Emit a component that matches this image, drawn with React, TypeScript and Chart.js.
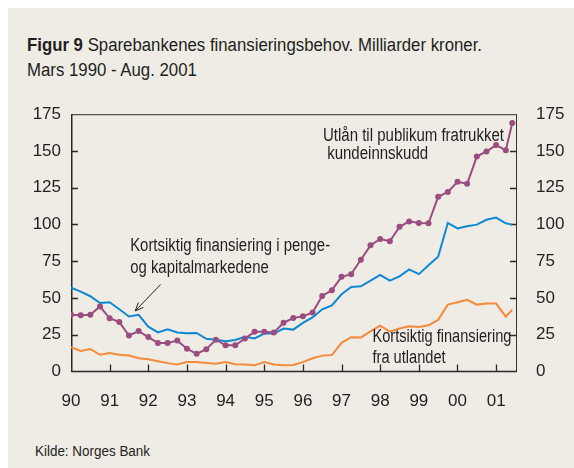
import { useEffect, useRef } from "react";
import { Chart, registerables } from "chart.js";

Chart.register(...registerables);

// Periods (quarter ends, last point August 2001)
const periods = [
  "1990-03", "1990-06", "1990-09", "1990-12",
  "1991-03", "1991-06", "1991-09", "1991-12",
  "1992-03", "1992-06", "1992-09", "1992-12",
  "1993-03", "1993-06", "1993-09", "1993-12",
  "1994-03", "1994-06", "1994-09", "1994-12",
  "1995-03", "1995-06", "1995-09", "1995-12",
  "1996-03", "1996-06", "1996-09", "1996-12",
  "1997-03", "1997-06", "1997-09", "1997-12",
  "1998-03", "1998-06", "1998-09", "1998-12",
  "1999-03", "1999-06", "1999-09", "1999-12",
  "2000-03", "2000-06", "2000-09", "2000-12",
  "2001-03", "2001-06", "2001-08",
];

// Utlån til publikum fratrukket kundeinnskudd
const utlanNetto = [
  38.6, 38.2, 38.6, 44.2, 36.2, 33.6, 24.5, 27.5, 23.4, 19.4, 19.4, 21.0,
  15.5, 12.0, 15.2, 21.6, 17.8, 17.8, 22.4, 27.1, 27.1, 26.6, 33.1, 36.4,
  37.5, 40.1, 51.4, 55.3, 64.4, 66.2, 76.0, 85.8, 90.1, 88.6, 98.4, 102.1,
  101.0, 100.8, 118.8, 122.1, 129.0, 127.7, 146.2, 149.7, 154.0, 150.5, 169.0,
];

// Kortsiktig finansiering i penge- og kapitalmarkedene
const pengeKapital = [
  57.0, 54.3, 51.2, 46.6, 47.1, 42.3, 37.4, 38.6, 30.5, 26.6, 28.7, 26.5,
  26.0, 26.2, 22.2, 21.6, 20.5, 21.4, 23.6, 22.5, 25.8, 25.8, 29.2, 28.5,
  33.1, 36.8, 42.3, 44.9, 52.5, 57.5, 57.9, 61.8, 65.7, 61.8, 64.7, 69.4,
  66.2, 72.3, 78.1, 101.0, 97.3, 98.8, 99.9, 103.2, 104.7, 100.8, 99.9,
];

// Kortsiktig finansiering fra utlandet
const utlandet = [
  16.6, 14.0, 15.3, 11.4, 12.6, 11.4, 10.9, 9.0, 8.4, 7.0, 5.7, 4.8,
  6.4, 6.4, 5.8, 5.2, 6.4, 4.9, 4.7, 4.2, 6.4, 4.8, 4.2, 4.4,
  6.4, 9.0, 10.8, 11.2, 19.5, 23.3, 23.2, 27.3, 31.2, 27.1, 29.2, 30.8,
  30.3, 31.4, 35.1, 45.5, 47.1, 48.8, 45.5, 46.2, 46.2, 37.3, 42.1,
];

const years = [1990, 1991, 1992, 1993, 1994, 1995, 1996, 1997, 1998, 1999, 2000, 2001];
const xTickLabels = ["90", "91", "92", "93", "94", "95", "96", "97", "98", "99", "00", "01"];
const yTicks = [0, 25, 50, 75, 100, 125, 150, 175];

const FONT = "'Liberation Sans', Arial, sans-serif";
const TEXT = "#231f20";
const PURPLE = "#9b4d80";
const BLUE = "#0d89d3";
const ORANGE = "#f68a3c";
const BG = "#efebe5";

const TITLE_BOLD = "Figur 9";
const TITLE_REST = " Sparebankenes finansieringsbehov. Milliarder kroner.";
const SUBTITLE = "Mars 1990 - Aug. 2001";
const SOURCE = "Kilde: Norges Bank";

// period "YYYY-MM" -> position on the year axis (March placed at the year start)
const toX = (p: string) => {
  const [y, m] = p.split("-").map(Number);
  return y + (m - 3) / 12;
};

const series = (vals: number[]) => periods.map((p, i) => ({ x: toX(p), y: vals[i] }));

// Annotations in data coordinates, with the width of the first line (condensed type)
const annotations = [
  { lines: ["Utlån til publikum fratrukket", " kundeinnskudd"], x: 1996.52, y: [160.1, 147.7], w: 181 },
  { lines: ["Kortsiktig finansiering i penge-", "og kapitalmarkedene"], x: 1991.53, y: [85.1, 70.1], w: 200 },
  { lines: ["Kortsiktig finansiering", "fra utlandet"], x: 1997.8, y: [23.2, 9.5], w: 139 },
];
const arrow = { from: [1992.32, 59.2], to: [1991.66, 41.2] };

const measureCanvas = typeof document !== "undefined" ? document.createElement("canvas") : null;
const measure = (text: string, font: string) => {
  const c = measureCanvas!.getContext("2d")!;
  c.font = font;
  return c.measureText(text).width;
};

const ANN_FONT = `18px ${FONT}`;

const framePlugin = {
  id: "frame",
  beforeDatasetsDraw(chart: any) {
    const { ctx, chartArea: a, scales } = chart;
    ctx.save();
    ctx.strokeStyle = "#333";
    ctx.lineWidth = 1;
    ctx.beginPath();
    ctx.moveTo(a.left, a.top + 0.5);
    ctx.lineTo(a.right, a.top + 0.5);
    ctx.moveTo(a.right - 0.5, a.top);
    ctx.lineTo(a.right - 0.5, a.bottom);
    ctx.stroke();
    ctx.lineWidth = 1.5;
    ctx.strokeStyle = "#2a2a2a";
    ctx.beginPath();
    ctx.moveTo(a.left + 0.75, a.top);
    ctx.lineTo(a.left + 0.75, a.bottom);
    ctx.lineTo(a.right, a.bottom);
    ctx.stroke();
    ctx.lineWidth = 1.3;
    ctx.beginPath();
    yTicks.forEach((v) => {
      if (v === 0 || v === 175) return;
      const py = Math.round(scales.y.getPixelForValue(v)) + 0.5;
      ctx.moveTo(a.left, py);
      ctx.lineTo(a.left + 7, py);
      ctx.moveTo(a.right, py);
      ctx.lineTo(a.right - 7, py);
    });
    years.forEach((yr, i) => {
      if (i === 0) return;
      const px = Math.round(scales.x.getPixelForValue(yr)) + 0.5;
      ctx.moveTo(px, a.bottom);
      ctx.lineTo(px, a.bottom - 7);
    });
    ctx.stroke();
    ctx.restore();
  },
  afterDatasetsDraw(chart: any) {
    const { ctx, scales } = chart;
    ctx.save();
    ctx.fillStyle = TEXT;
    ctx.font = ANN_FONT;
    ctx.textBaseline = "middle";
    ctx.textAlign = "left";
    annotations.forEach((an) => {
      const px = scales.x.getPixelForValue(an.x);
      const k = an.w / ctx.measureText(an.lines[0]).width;
      an.lines.forEach((ln, i) => {
        ctx.save();
        ctx.translate(px, scales.y.getPixelForValue(an.y[i]));
        ctx.scale(k, 1);
        ctx.fillText(ln, 0, 0);
        ctx.restore();
      });
    });
    const x1 = scales.x.getPixelForValue(arrow.from[0]);
    const y1 = scales.y.getPixelForValue(arrow.from[1]);
    const x2 = scales.x.getPixelForValue(arrow.to[0]);
    const y2 = scales.y.getPixelForValue(arrow.to[1]);
    ctx.strokeStyle = "#222";
    ctx.lineWidth = 1;
    ctx.beginPath();
    ctx.moveTo(x1, y1);
    ctx.lineTo(x2, y2);
    const ang = Math.atan2(y2 - y1, x2 - x1);
    const L = 9;
    ctx.moveTo(x2, y2);
    ctx.lineTo(x2 - L * Math.cos(ang - 0.4), y2 - L * Math.sin(ang - 0.4));
    ctx.moveTo(x2, y2);
    ctx.lineTo(x2 - L * Math.cos(ang + 0.4), y2 - L * Math.sin(ang + 0.4));
    ctx.stroke();
    ctx.restore();
  },
};

export default function App() {
  const ref = useRef<HTMLCanvasElement>(null);

  useEffect(() => {
    document.body.style.margin = "0";
    const tickFont = { family: FONT, size: 17 };
    const chart = new Chart(ref.current!, {
      type: "line",
      data: {
        datasets: [
          {
            label: "Utlån til publikum fratrukket kundeinnskudd",
            data: series(utlanNetto),
            borderColor: PURPLE,
            backgroundColor: PURPLE,
            borderWidth: 2,
            pointRadius: 3,
            pointStyle: "circle",
            pointBorderWidth: 0,
            tension: 0,
          },
          {
            label: "Kortsiktig finansiering i penge- og kapitalmarkedene",
            data: series(pengeKapital),
            borderColor: BLUE,
            borderWidth: 2,
            pointRadius: 0,
            tension: 0,
          },
          {
            label: "Kortsiktig finansiering fra utlandet",
            data: series(utlandet),
            borderColor: ORANGE,
            borderWidth: 2,
            pointRadius: 0,
            tension: 0,
          },
        ],
      },
      options: {
        animation: false,
        responsive: false,
        maintainAspectRatio: false,
        layout: { padding: { top: 18, left: 0, right: 0, bottom: 0 } },
        plugins: { legend: { display: false }, tooltip: { enabled: false } },
        scales: {
          x: {
            type: "linear",
            min: 1990,
            max: 2001.54,
            afterBuildTicks: (s: any) => {
              s.ticks = years.map((v) => ({ value: v }));
            },
            afterFit: (s: any) => {
              s.height = 48.5;
            },
            ticks: {
              callback: (v: any) => xTickLabels[years.indexOf(Number(v))] ?? "",
              padding: 20,
              font: tickFont,
              color: TEXT,
              maxRotation: 0,
              autoSkip: false,
            },
            grid: { display: false, drawTicks: false },
            border: { display: false },
          },
          y: {
            position: "left",
            min: 0,
            max: 175,
            afterBuildTicks: (s: any) => {
              s.ticks = yTicks.map((v) => ({ value: v }));
            },
            afterFit: (s: any) => {
              s.width = 63;
            },
            ticks: { padding: 10, font: tickFont, color: TEXT },
            grid: { display: false, drawTicks: false },
            border: { display: false },
          },
          y2: {
            position: "right",
            min: 0,
            max: 175,
            afterBuildTicks: (s: any) => {
              s.ticks = yTicks.map((v) => ({ value: v }));
            },
            afterFit: (s: any) => {
              s.width = 57;
            },
            ticks: { padding: 19, font: tickFont, color: TEXT },
            grid: { display: false, drawTicks: false },
            border: { display: false },
          },
        },
      },
      plugins: [framePlugin],
    });
    return () => chart.destroy();
  }, []);

  const titleSize = 18;
  const titleW =
    measure(TITLE_BOLD, `bold ${titleSize}px ${FONT}`) + measure(TITLE_REST, `${titleSize}px ${FONT}`);
  const kTitle = 455 / titleW;
  const srcSize = 15.5;
  const kSrc = 115 / measure(SOURCE, `${srcSize}px ${FONT}`);
  const squeeze = (k: number) => ({ transform: `scaleX(${k})`, transformOrigin: "0 0" });

  return (
    <div style={{ width: 574, height: 468, background: "#fff", paddingTop: 8, paddingLeft: 8, boxSizing: "border-box", overflow: "hidden" }}>
      <div style={{ position: "relative", width: 566, height: 460, background: BG, fontFamily: FONT, color: TEXT }}>
        <div style={{ position: "absolute", left: 19, top: 26, fontSize: titleSize, lineHeight: "22px", whiteSpace: "nowrap", ...squeeze(kTitle) }}>
          <b>{TITLE_BOLD}</b>{TITLE_REST}
        </div>
        <div style={{ position: "absolute", left: 19, top: 51, fontSize: titleSize, lineHeight: "22px", whiteSpace: "nowrap", ...squeeze(kTitle) }}>
          {SUBTITLE}
        </div>
        <canvas ref={ref} width={566} height={335} style={{ position: "absolute", left: 0, top: 77, width: 566, height: 335 }} />
        <div style={{ position: "absolute", left: 27, top: 434, fontSize: srcSize, lineHeight: "18px", whiteSpace: "nowrap", ...squeeze(kSrc) }}>
          {SOURCE}
        </div>
      </div>
    </div>
  );
}
